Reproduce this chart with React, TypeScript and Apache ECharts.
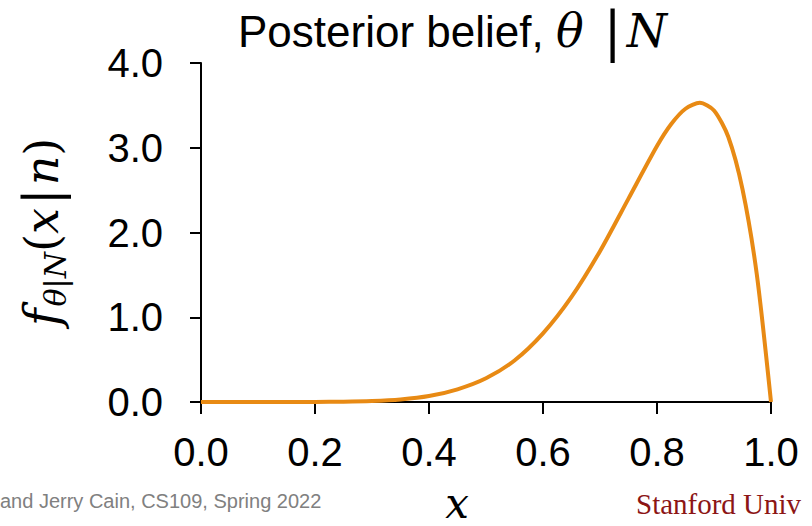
import React, { useEffect, useRef } from "react";
import * as echarts from "echarts";

const xValues = [0, 0.05, 0.1, 0.15, 0.2, 0.25, 0.3, 0.35, 0.4, 0.45, 0.5, 0.55, 0.6, 0.65, 0.7, 0.75, 0.8, 0.825, 0.85, 0.875, 0.9, 0.925, 0.95, 0.975, 1.0];
const densityValues = [0, 0, 0, 0, 0.001, 0.003, 0.011, 0.03, 0.07, 0.15, 0.28, 0.49, 0.81, 1.24, 1.78, 2.4, 3.02, 3.28, 3.46, 3.53, 3.44, 3.13, 2.51, 1.51, 0];
const yTicks = [0, 1, 2, 3, 4];
const xTicks = [0, 0.2, 0.4, 0.6, 0.8, 1.0];

const titleMain = "Posterior belief, ";
const footerLeft = "and Jerry Cain, CS109, Spring 2022";
const footerRight = "Stanford Univ";

const MATH = "DejaVu Serif, Liberation Serif, serif";
const SANS = "Liberation Sans, Arial, sans-serif";

export default function App() {
  const ref = useRef<HTMLDivElement>(null);
  useEffect(() => {
    document.body.style.margin = "0";
    const chart = echarts.init(ref.current!, null, { renderer: "svg" });
    const data = xValues.map((x, i) => [x, densityValues[i]]);
    chart.setOption({
      animation: false,
      backgroundColor: "#ffffff",
      grid: { left: 201, right: 41, top: 63, bottom: 124, containLabel: false },
      xAxis: {
        type: "value",
        min: xTicks[0],
        max: xTicks[xTicks.length - 1],
        interval: 0.2,
        axisLine: { show: true, onZero: false, lineStyle: { color: "#000", width: 2 } },
        axisTick: { show: true, length: 12, lineStyle: { color: "#000", width: 2 } },
        splitLine: { show: false },
        axisLabel: {
          formatter: (v: number) => v.toFixed(1),
          fontSize: 40,
          color: "#000",
          fontFamily: SANS,
          margin: 30,
        },
      },
      yAxis: {
        type: "value",
        min: yTicks[0],
        max: yTicks[yTicks.length - 1],
        interval: 1,
        axisLine: { show: true, lineStyle: { color: "#000", width: 2 } },
        axisTick: { show: true, length: 11, lineStyle: { color: "#000", width: 2 } },
        splitLine: { show: false },
        axisLabel: {
          formatter: (v: number) => v.toFixed(1),
          fontSize: 40,
          color: "#000",
          fontFamily: SANS,
          margin: 38,
        },
      },
      series: [
        {
          type: "line",
          data,
          showSymbol: false,
          smooth: 0.25,
          lineStyle: { color: "#E88A14", width: 4 },
          itemStyle: { color: "#E88A14" },
        },
      ],
      graphic: [
        {
          type: "text",
          left: 238,
          top: 4,
          style: {
            text: "{a|" + titleMain + "}{m|θ}{b|\u007c}{m|N}",
            rich: {
              a: { fontSize: 44, fontFamily: SANS, fill: "#000", lineHeight: 58 },
              m: { fontSize: 46, fontFamily: MATH, fontStyle: "italic", fill: "#000", lineHeight: 58 },
              b: { fontSize: 54, fontFamily: MATH, fill: "#000", lineHeight: 58, padding: [0, 5, 0, 20] },
            },
          },
        },
        {
          type: "text",
          x: 42,
          y: 232,
          rotation: Math.PI / 2,
          style: {
            text: "{f|f}{s|θ|N}{p|(}{m|x}{b|\u007c}{m|n}{p|)}",
            align: "center",
            verticalAlign: "middle",
            rich: {
              f: { fontSize: 48, fontFamily: MATH, fontStyle: "italic", fill: "#000", lineHeight: 56, padding: [0, 2, 0, 0] },
              s: { fontSize: 30, fontFamily: MATH, fontStyle: "italic", fill: "#000", lineHeight: 22, verticalAlign: "bottom" },
              p: { fontSize: 46, fontFamily: MATH, fill: "#000", lineHeight: 56 },
              m: { fontSize: 46, fontFamily: MATH, fontStyle: "italic", fill: "#000", lineHeight: 56 },
              b: { fontSize: 50, fontFamily: MATH, fill: "#000", lineHeight: 56, padding: [0, 3, 0, 3] },
            },
          },
        },
        {
          type: "text",
          x: 457,
          y: 503,
          style: {
            text: "x",
            align: "center",
            verticalAlign: "middle",
            fontSize: 42,
            lineHeight: 34,
            fontStyle: "italic",
            fontFamily: MATH,
            fill: "#000",
          },
        },
        {
          type: "text",
          x: 0,
          y: 501,
          style: {
            text: footerLeft,
            align: "left",
            verticalAlign: "middle",
            fontSize: 20,
            fontFamily: SANS,
            fill: "#808080",
          },
        },
        {
          type: "text",
          x: 636,
          y: 504,
          style: {
            text: footerRight,
            align: "left",
            verticalAlign: "middle",
            fontSize: 29,
            fontFamily: "Liberation Serif, serif",
            fill: "#8C1515",
          },
        },
      ],
    });
    return () => chart.dispose();
  }, []);
  return <div ref={ref} style={{ position: "fixed", left: 0, top: 0, width: 812, height: 526 }} />;
}
